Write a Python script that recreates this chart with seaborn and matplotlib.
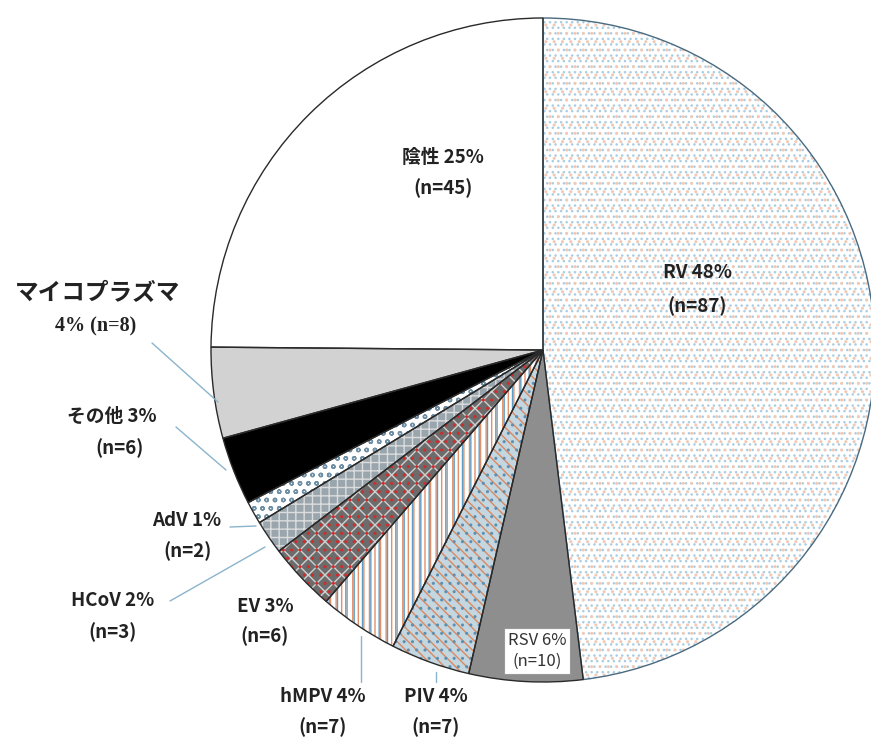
import matplotlib
matplotlib.use("Agg")
import matplotlib.pyplot as plt
import seaborn as sns

# ---- data ----
categories = ["RV", "RSV", "PIV", "hMPV", "EV", "HCoV", "AdV", "その他", "マイコプラズマ", "陰性"]
counts = [87, 10, 7, 7, 6, 3, 2, 6, 8, 45]
percents = [48, 6, 4, 4, 3, 2, 1, 3, 4, 25]

sns.set_theme(style="white")
plt.rcParams["font.family"] = ["Noto Sans CJK JP", "DejaVu Sans"]
plt.rcParams["hatch.linewidth"] = 1.0

W, H = 871, 744
fig = plt.figure(figsize=(W / 100, H / 100), dpi=100)
ax = fig.add_axes([0, 0, 1, 1])

cx, cy, R = 543, H - 350, 332

faces = ["#ffffff", "#8e8e8e", "#c4d6e0", "#ffffff", "#6c6c6c", "#9aa6ad", "#ffffff", "#000000", "#d2d2d2", "#ffffff"]
hatch1 = ["...", "", "\\\\\\", "|||", "xx", "++", "oo", "", "", ""]
hcol1 = ["#a9cde2", "#8e8e8e", "#d98a62", "#e0906a", "#d0d0d0", "#dcdcdc", "#6f8fa5", "#000000", "#d2d2d2", "#ffffff"]
hatch2 = ["..", "", "..", "||", "..", "", "", "", "", ""]
hcol2 = ["#f3c9b4", "#ffffff", "#5c8fb0", "#5f9bc2", "#d42a2a", "#ffffff", "#ffffff", "#ffffff", "#ffffff", "#ffffff"]

kw = dict(startangle=90, counterclock=False, center=(cx, cy), radius=R)

w1, _ = ax.pie(counts, colors=faces, **kw)
for w, h, c in zip(w1, hatch1, hcol1):
    w.set_hatch(h)
    w.set_edgecolor(c)
    w.set_linewidth(0)

w2, _ = ax.pie(counts, **kw)
for w, h, c in zip(w2, hatch2, hcol2):
    w.set_facecolor("none")
    w.set_hatch(h)
    w.set_edgecolor(c)
    w.set_linewidth(0)

w3, _ = ax.pie(counts, **kw)
for w in w3:
    w.set_facecolor("none")
    w.set_edgecolor("#2a2a2a")
    w.set_linewidth(1.0)
w3[0].set_edgecolor("#4a6a80")

ax.set_xlim(0, W)
ax.set_ylim(0, H)
ax.set_aspect("auto")
ax.axis("off")

tc = "#222222"


def lab(x, y, s, size=13.5, weight="bold", **k):
    ax.text(x, H - y, s, ha="center", va="center", fontsize=size, fontweight=weight, color=tc, **k)


def leader(x0, y0, x1, y1):
    ax.plot([x0, x1], [H - y0, H - y1], color="#8ab4cc", lw=1.0)


# 陰性
lab(443, 157, f"{categories[9]} {percents[9]}%")
lab(443, 188, f"(n={counts[9]})")
# RV
lab(697, 272, f"{categories[0]} {percents[0]}%")
lab(697, 306, f"(n={counts[0]})")
# マイコプラズマ
lab(98, 293, categories[8], size=17)
ax.text(96, H - 326, f"{percents[8]}% (n={counts[8]})", ha="center", va="center", fontsize=14.5,
        fontweight="bold", color=tc, family=["Liberation Serif", "DejaVu Serif"])
leader(152, 343, 218, 402)
# その他
lab(112, 416, f"{categories[7]} {percents[7]}%")
lab(120, 448, f"(n={counts[7]})")
leader(176, 427, 226, 470)
# AdV
lab(187, 521, f"{categories[6]} {percents[6]}%")
lab(188, 551, f"(n={counts[6]})")
leader(230, 527, 256, 526)
# HCoV
lab(113, 601, f"{categories[5]} {percents[5]}%")
lab(113, 632, f"(n={counts[5]})")
leader(170, 601, 265, 547)
# EV
lab(265, 606, f"{categories[4]} {percents[4]}%")
lab(265, 636, f"(n={counts[4]})")
# hMPV
lab(323, 696, f"{categories[3]} {percents[3]}%")
lab(323, 727, f"(n={counts[3]})")
leader(361, 636, 361, 682)
# PIV
lab(436, 696, f"{categories[2]} {percents[2]}%")
lab(436, 727, f"(n={counts[2]})")
leader(436, 672, 436, 682)
# RSV (boxed)
ax.text(537, H - 651, f"{categories[1]} {percents[1]}%\n(n={counts[1]})", ha="center", va="center",
        fontsize=12, color="#333333", linespacing=1.3,
        bbox=dict(boxstyle="square,pad=0.25", facecolor="white", edgecolor="#999999", lw=0.8))

fig.savefig("out.png", dpi=100)
